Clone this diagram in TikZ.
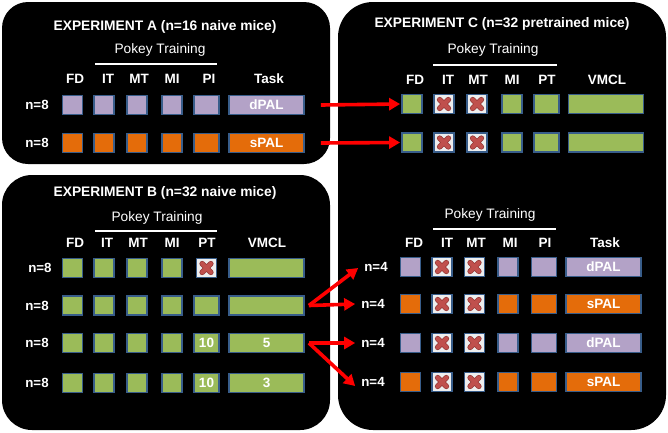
\documentclass[tikz,border=0pt]{standalone}
\usepackage{fontspec}
\setmainfont{Liberation Sans}
\usetikzlibrary{arrows.meta}
\definecolor{lav}{HTML}{B3A2C7}
\definecolor{org}{HTML}{E46C0A}
\definecolor{grn}{HTML}{9BBB59}
\definecolor{bord}{HTML}{385D8A}
\definecolor{xbg}{HTML}{EEEEEE}
\definecolor{xred}{HTML}{C0504D}
\definecolor{xdark}{HTML}{943634}
\definecolor{ared}{HTML}{FF0000}
\tikzset{
  panel/.style={fill=black},
  ttl/.style={text=white, font=\fontsize{13.8}{15}\selectfont\bfseries, inner sep=0pt},
  sub/.style={text=white, font=\fontsize{13.7}{15}\selectfont, inner sep=0pt},
  hdr/.style={text=white, font=\fontsize{13.5}{15}\selectfont\bfseries, inner sep=0pt},
  lab/.style={text=white, font=\fontsize{13.3}{15}\selectfont\bfseries, inner sep=0pt},
  rule/.style={draw=white, line width=1.6pt},
  bx/.style={draw=bord, line width=1.8pt, minimum width=20pt, minimum height=19pt, inner sep=0pt,
             text=white, font=\fontsize{13.5}{15}\selectfont\bfseries},
  sq/.style={bx},
  wd/.style={bx, minimum width=25pt},
  lg/.style={bx, minimum width=75pt},
  xx/.style={bx, fill=xbg, path picture={
      \draw[xdark, line width=5.6pt, line cap=round]
        ([shift={(-4.3pt,-4.3pt)}]path picture bounding box.center) -- ([shift={(4.3pt,4.3pt)}]path picture bounding box.center)
        ([shift={(-4.3pt,4.3pt)}]path picture bounding box.center) -- ([shift={(4.3pt,-4.3pt)}]path picture bounding box.center);
      \draw[xred, line width=4pt, line cap=round]
        ([shift={(-4.3pt,-4.3pt)}]path picture bounding box.center) -- ([shift={(4.3pt,4.3pt)}]path picture bounding box.center)
        ([shift={(-4.3pt,4.3pt)}]path picture bounding box.center) -- ([shift={(4.3pt,-4.3pt)}]path picture bounding box.center);
  }},
  arr/.style={draw=ared, line width=3.6pt, -{Triangle[length=11pt,width=12pt]}},
}
\begin{document}
\begin{tikzpicture}[x=1pt,y=-1pt]
\useasboundingbox (0,0) rectangle (668,432);
\fill[white] (0,0) rectangle (668,432);
% panels
\fill[panel, rounded corners=26pt] (2,2) rectangle (330,164);
\fill[panel, rounded corners=30pt] (2,175) rectangle (330,430);
\fill[panel, rounded corners=35pt] (338,2) rectangle (666,430);

% ---------------- Experiment A
\node[ttl] (tA) at (165,27) {EXPERIMENT A (n=16 naive mice)};
\node[sub] (pA) at (160,50) {Pokey Training};
\draw[rule] (95,64) -- (217,64);
\node[hdr] (hA1) at (75,79) {FD};
\node[hdr] (hA2) at (108,79) {IT};
\node[hdr] (hA3) at (139,79) {MT};
\node[hdr] (hA4) at (172,79) {MI};
\node[hdr] (hA5) at (209,79) {PI};
\node[hdr] (hA6) at (269,79) {Task};
\foreach \r/\y/\c/\t in {1/105/lav/dPAL, 2/143/org/sPAL}{
  \node[lab] (A\r-n) at (37,\y) {n=8};
  \node[sq,fill=\c] (A\r-fd) at (72.5,\y) {};
  \node[sq,fill=\c] (A\r-it) at (104,\y) {};
  \node[sq,fill=\c] (A\r-mt) at (137,\y) {};
  \node[sq,fill=\c] (A\r-mi) at (172,\y) {};
  \node[wd,fill=\c] (A\r-pi) at (206.5,\y) {};
  \node[lg,fill=\c] (A\r-task) at (266.5,\y) {\t};
}

% ---------------- Experiment B
\node[ttl] (tB) at (165,193) {EXPERIMENT B (n=32 naive mice)};
\node[sub] (pB) at (157,218) {Pokey Training};
\draw[rule] (95,231) -- (217,231);
\node[hdr] (hB1) at (75,243) {FD};
\node[hdr] (hB2) at (107,243) {IT};
\node[hdr] (hB3) at (138,243) {MT};
\node[hdr] (hB4) at (172,243) {MI};
\node[hdr] (hB5) at (207,243) {PT};
\node[hdr] (hB6) at (267,243) {VMCL};
\foreach \r/\y/\nx in {1/268/40, 2/305.5/37, 3/343/37, 4/383/37}{
  \node[lab] (B\r-n) at (\nx,\y) {n=8};
  \node[sq,fill=grn] (B\r-fd) at (72.5,\y) {};
  \node[sq,fill=grn] (B\r-it) at (104,\y) {};
  \node[sq,fill=grn] (B\r-mt) at (137,\y) {};
  \node[sq,fill=grn] (B\r-mi) at (172,\y) {};
}
\node[wd,xx] (B1-pt) at (206.5,268) {};
\node[wd,fill=grn] (B2-pt) at (206.5,305.5) {};
\node[wd,fill=grn] (B3-pt) at (206.5,343) {10};
\node[wd,fill=grn] (B4-pt) at (206.5,383) {10};
\node[lg,fill=grn] (B1-vm) at (266.5,268) {};
\node[lg,fill=grn] (B2-vm) at (266.5,305.5) {};
\node[lg,fill=grn] (B3-vm) at (266.5,343) {5};
\node[lg,fill=grn] (B4-vm) at (266.5,383) {3};

% ---------------- Experiment C (top)
\node[ttl] (tC) at (502,24) {EXPERIMENT C (n=32 pretrained mice)};
\node[sub] (pC) at (493,50) {Pokey Training};
\draw[rule] (433,65) -- (557,65);
\node[hdr] (hC1) at (415,80) {FD};
\node[hdr] (hC2) at (448,80) {IT};
\node[hdr] (hC3) at (478,80) {MT};
\node[hdr] (hC4) at (512,80) {MI};
\node[hdr] (hC5) at (547,80) {PT};
\node[hdr] (hC6) at (607,80) {VMCL};
\foreach \r/\y in {1/104, 2/142.5}{
  \node[sq,fill=grn] (C\r-fd) at (412,\y) {};
  \node[sq,xx] (C\r-it) at (444,\y) {};
  \node[sq,xx] (C\r-mt) at (477,\y) {};
  \node[sq,fill=grn] (C\r-mi) at (512,\y) {};
  \node[wd,fill=grn] (C\r-pt) at (546.5,\y) {};
  \node[lg,fill=grn] (C\r-vm) at (606,\y) {};
}

% ---------------- Experiment C (bottom)
\node[sub] (pD) at (490,215) {Pokey Training};
\draw[rule] (433,229) -- (556,229);
\node[hdr] (hD1) at (414,243) {FD};
\node[hdr] (hD2) at (447,243) {IT};
\node[hdr] (hD3) at (476,243) {MT};
\node[hdr] (hD4) at (510,243) {MI};
\node[hdr] (hD5) at (545,243) {PI};
\node[hdr] (hD6) at (605,243) {Task};
\foreach \r/\y/\nx/\c/\t in {1/267/376/lav/dPAL, 2/304/373/org/sPAL, 3/343/373/lav/dPAL, 4/382/373/org/sPAL}{
  \node[lab] (D\r-n) at (\nx,\y) {n=4};
  \node[sq,fill=\c] (D\r-fd) at (410.5,\y) {};
  \node[sq,xx] (D\r-it) at (442,\y) {};
  \node[sq,xx] (D\r-mt) at (474.5,\y) {};
  \node[sq,fill=\c] (D\r-mi) at (508,\y) {};
  \node[wd,fill=\c] (D\r-pi) at (544,\y) {};
  \node[lg,fill=\c] (D\r-task) at (603.5,\y) {\t};
}

% ---------------- arrows
\draw[arr] ([xshift=16pt]A1-task.east) -- ([xshift=-1pt]C1-fd.west);
\draw[arr] ([xshift=16pt]A2-task.east) -- ([xshift=-1pt]C2-fd.west);
\draw[arr] ([xshift=4pt]B2-vm.east) -- ([xshift=-6pt,yshift=-1pt]D1-n.west);
\draw[arr] ([xshift=4pt]B2-vm.east) -- ([xshift=-6pt]D2-n.west);
\draw[arr] ([xshift=4pt]B3-vm.east) -- ([xshift=-6pt]D3-n.west);
\draw[arr] ([xshift=4pt]B3-vm.east) -- ([xshift=-6pt,yshift=-4pt]D4-n.west);
\end{tikzpicture}
\end{document}
